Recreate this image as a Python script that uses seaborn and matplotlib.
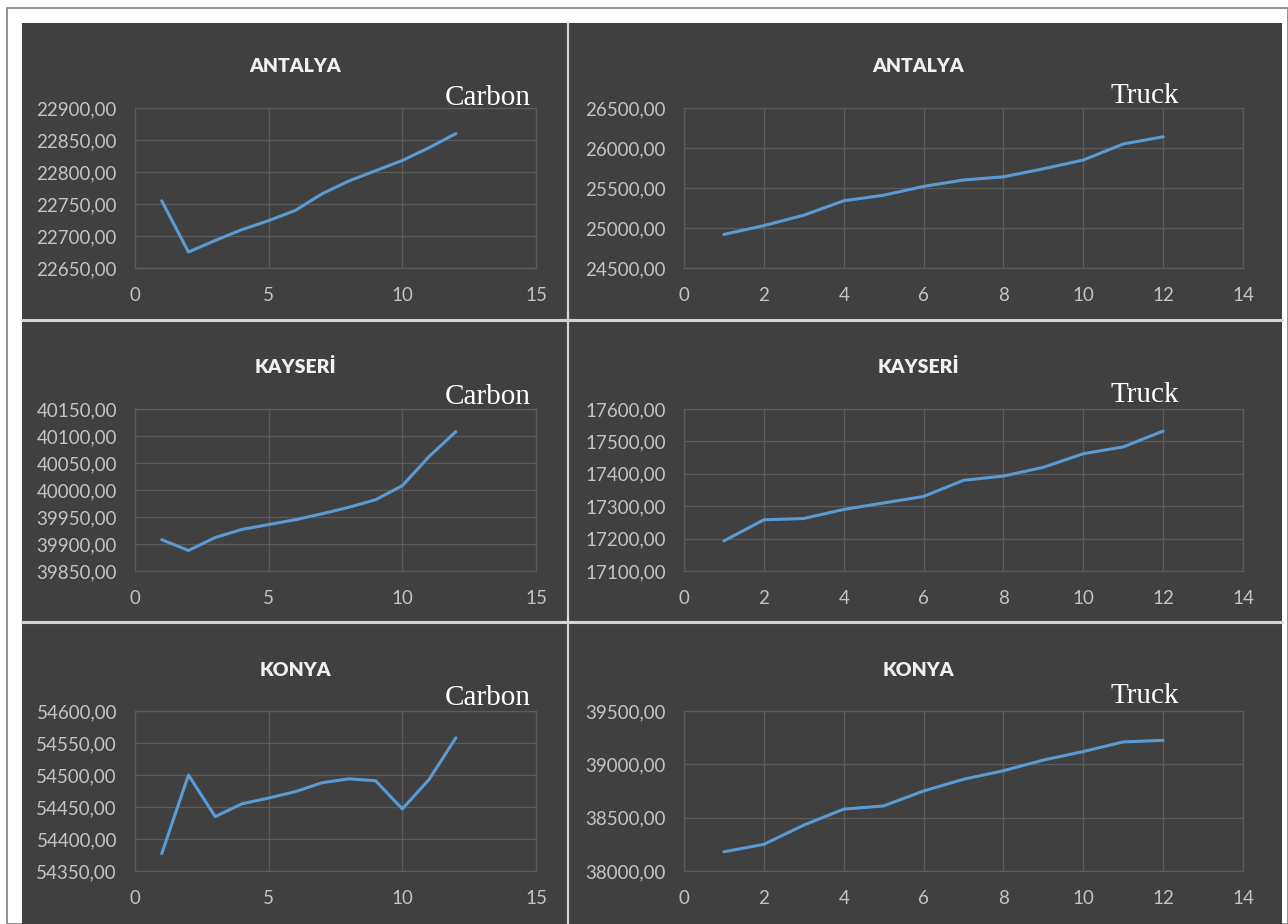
import numpy as np, pandas as pd
import seaborn as sns
import matplotlib.pyplot as plt
from matplotlib.ticker import FuncFormatter, MultipleLocator
from matplotlib.patches import Rectangle
from matplotlib.lines import Line2D

sns.set_theme(style="dark")
plt.rcParams['font.family'] = ['Lato', 'DejaVu Sans']

# data
months = list(range(1, 13))
cities = ["ANTALYA", "KAYSERİ", "KONYA"]

antalya_carbon = [22755, 22675, 22693, 22710, 22724, 22740, 22766, 22786, 22802, 22818, 22838, 22860]
antalya_truck = [24920, 25030, 25160, 25340, 25410, 25520, 25600, 25640, 25740, 25850, 26050, 26140]
kayseri_carbon = [39908, 39888, 39912, 39927, 39936, 39945, 39956, 39968, 39982, 40008, 40062, 40108]
kayseri_truck = [17193, 17258, 17262, 17290, 17310, 17330, 17380, 17393, 17420, 17462, 17483, 17532]
konya_carbon = [54377, 54500, 54435, 54455, 54464, 54474, 54488, 54494, 54491, 54447, 54493, 54558]
konya_truck = [38180, 38250, 38430, 38580, 38610, 38750, 38860, 38940, 39040, 39120, 39210, 39225]

carbon_ylims = [(22650, 22900), (39850, 40150), (54350, 54600)]
carbon_ystep = [50, 50, 50]
truck_ylims = [(24500, 26500), (17100, 17600), (38000, 39500)]
truck_ystep = [500, 100, 500]

W, H = 1288, 924
bg = "#404040"
grid_c = "#5c5c5c"
tick_c = "#c4c4c4"
line_c = "#5b9bd5"

fig = plt.figure(figsize=(W / 100, H / 100), dpi=100, facecolor="white")

def px(x, y):
    return x / W, 1 - y / H

# outer frame + dark panel
fig.patches.append(Rectangle(px(7, 924), (1288 - 7) / W, (924 - 8) / H, transform=fig.transFigure,
                             facecolor="white", edgecolor="#808080", lw=1.2, zorder=0))
fig.patches.append(Rectangle(px(22, 924), (1282 - 22) / W, (924 - 23) / H, transform=fig.transFigure,
                             facecolor=bg, edgecolor="none", zorder=0.5))
# separators
for yy in [320, 622]:
    fig.lines.append(Line2D([22 / W, 1282 / W], [1 - yy / H] * 2, transform=fig.transFigure,
                            color="#d4d4d4", lw=2.2, zorder=1))
fig.lines.append(Line2D([568 / W] * 2, [1 - 23 / H, 0], transform=fig.transFigure,
                        color="#d4d4d4", lw=1.6, zorder=1))

fmt = FuncFormatter(lambda v, p: f"{v:.2f}".replace(".", ","))

rows = [(108, 268), (409, 571), (711, 871)]
left_x = (135, 536)
right_x = (684, 1243)
title_y = [66, 367, 670]
label_y = [98, 397, 698]

carbon = [antalya_carbon, kayseri_carbon, konya_carbon]
truck = [antalya_truck, kayseri_truck, konya_truck]

def make_ax(xr, yr):
    ax = fig.add_axes([xr[0] / W, 1 - yr[1] / H, (xr[1] - xr[0]) / W, (yr[1] - yr[0]) / H])
    ax.set_zorder(3)
    ax.set_facecolor(bg)
    for s in ax.spines.values():
        s.set_visible(True)
        s.set_color(grid_c)
        s.set_linewidth(0.9)
    ax.grid(True, color=grid_c, lw=0.9)
    ax.tick_params(length=0, colors=tick_c, labelsize=13.5)
    ax.tick_params(axis="y", pad=13)
    ax.tick_params(axis="x", pad=14)
    ax.yaxis.set_major_formatter(fmt)
    return ax

for i in range(3):
    # carbon panel
    ax = make_ax(left_x, rows[i])
    df = pd.DataFrame({"month": months, "value": carbon[i]})
    sns.lineplot(data=df, x="month", y="value", ax=ax, color=line_c, lw=2.2)
    ax.set_xlim(0, 15)
    ax.xaxis.set_major_locator(MultipleLocator(5))
    ax.set_ylim(*carbon_ylims[i])
    ax.yaxis.set_major_locator(MultipleLocator(carbon_ystep[i]))
    ax.set_xlabel("")
    ax.set_ylabel("")
    fig.text(295 / W, 1 - title_y[i] / H, cities[i], ha="center", va="center",
             color="#f0f0f0", fontsize=14, fontweight="heavy", zorder=4)
    fig.text(488 / W, 1 - label_y[i] / H, "Carbon", ha="center", va="center",
             color="white", fontsize=21, family="Liberation Serif", zorder=5)

    # truck panel
    ax = make_ax(right_x, rows[i])
    df = pd.DataFrame({"month": months, "value": truck[i]})
    sns.lineplot(data=df, x="month", y="value", ax=ax, color=line_c, lw=2.2)
    ax.set_xlim(0, 14)
    ax.xaxis.set_major_locator(MultipleLocator(2))
    ax.set_ylim(*truck_ylims[i])
    ax.yaxis.set_major_locator(MultipleLocator(truck_ystep[i]))
    ax.set_xlabel("")
    ax.set_ylabel("")
    fig.text(918 / W, 1 - title_y[i] / H, cities[i], ha="center", va="center",
             color="#f0f0f0", fontsize=14, fontweight="heavy", zorder=4)
    fig.text(1145 / W, 1 - (label_y[i] - 2) / H, "Truck", ha="center", va="center",
             color="white", fontsize=21, family="Liberation Serif", zorder=5)

plt.savefig("out.png", dpi=100, facecolor="white")
